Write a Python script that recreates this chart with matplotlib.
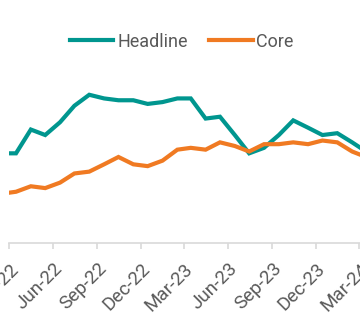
import matplotlib
matplotlib.use("Agg")
import matplotlib.pyplot as plt
import matplotlib.dates as mdates
import numpy as np
import pandas as pd

plt.rcParams['font.family'] = ['Roboto', 'DejaVu Sans']

# monthly readings, plotted mid-month
months = pd.date_range('2022-02-01', periods=26, freq='MS') + pd.Timedelta(days=14)
headline = [4.9, 4.9, 6.2, 5.9, 6.6, 7.5, 8.1, 7.9, 7.8, 7.8, 7.6, 7.7, 7.9,
            7.9, 6.8, 6.9, 5.9, 4.9, 5.2, 5.9, 6.7, 6.3, 5.9, 6.0, 5.5, 5.0]
core = [2.7, 2.8, 3.1, 3.0, 3.3, 3.8, 3.9, 4.3, 4.7, 4.3, 4.2, 4.5, 5.1,
        5.2, 5.1, 5.5, 5.3, 5.0, 5.4, 5.4, 5.5, 5.4, 5.6, 5.5, 5.0, 4.7]

tick_dates = pd.date_range('2022-03-01', '2024-03-01', freq='3MS')
x_start = pd.Timestamp('2022-03-01')
x_end = pd.Timestamp('2024-06-01')

TEAL = '#00968F'
ORANGE = '#F07A22'
GREY = '#595959'

W, H = 360, 336
fig = plt.figure(figsize=(W / 100, H / 100), dpi=100)

# axes sized in pixels so the chart runs off the right edge like the crop
px_per_day = 350 / (pd.Timestamp('2024-03-01') - x_start).days
ax_w = (x_end - x_start).days * px_per_day
ax = fig.add_axes([9.3 / W, (H - 243) / H, ax_w / W, 183 / H])

ax.plot(months, headline, color=TEAL, lw=3, label='Headline', solid_joinstyle='miter')
ax.plot(months, core, color=ORANGE, lw=3, label='Core', solid_joinstyle='miter')

ax.set_xlim(x_start, x_end)
ax.set_ylim(0, 10)
ax.set_xticks(tick_dates)
ax.xaxis.set_major_formatter(mdates.DateFormatter('%b-%y'))
ax.set_yticks([])

for side in ['top', 'right', 'left']:
    ax.spines[side].set_visible(False)
ax.spines['bottom'].set_color('#D9D9D9')
ax.spines['bottom'].set_linewidth(1.2)
ax.tick_params(axis='x', colors='#D9D9D9', length=4, width=1.2, pad=8,
               labelcolor=GREY, labelsize=13.5)
plt.setp(ax.get_xticklabels(), rotation=45, ha='right', va='top', rotation_mode='anchor')

fig.legend(loc='center', bbox_to_anchor=(0.505, 1 - 41.7 / H), ncol=2, frameon=False,
           fontsize=13, handlelength=2.4, handletextpad=0.2, columnspacing=1.2,
           labelcolor=GREY)

fig.savefig('out.png', dpi=100)
